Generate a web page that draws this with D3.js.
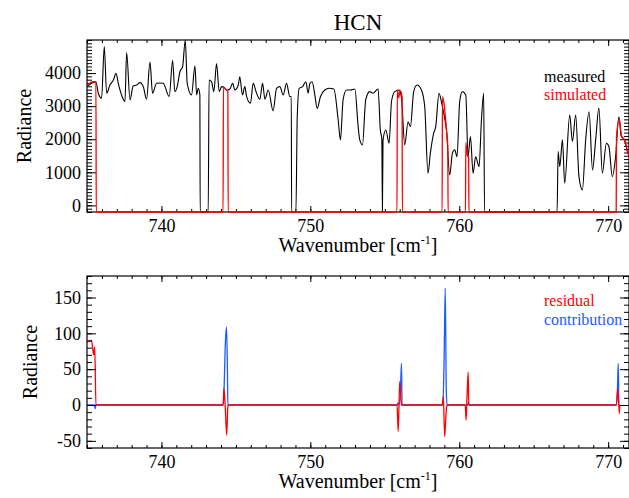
<!DOCTYPE html>
<html>
<head>
<meta charset="utf-8">
<script src="https://cdn.jsdelivr.net/npm/d3@7"></script>
<style>
  body { margin: 0; background: #fff; }
  text { font-family: "Liberation Serif", "Times New Roman", Times, "DejaVu Serif", serif; }
</style>
</head>
<body>
<div id="chart"></div>
<script>
// measured spectrum (wavenumber, radiance); -200 marks masked points
const measuredWn = [735.0,735.3,735.6,735.76,735.98,736.16,736.32,736.54,736.77,736.95,737.1,737.32,737.55,737.66,737.89,738.1,738.34,738.56,738.78,739.0,739.23,739.4,739.67,739.9,740.12,740.52,740.75,740.9,741.06,741.24,741.42,741.6,741.73,742.02,742.25,742.36,742.47,742.58,742.6,743.14,743.2,743.36,743.52,743.7,743.88,744.04,744.2,744.38,744.6,744.78,744.93,745.16,745.26,745.44,745.6,745.72,745.98,746.16,746.39,746.61,746.79,746.95,747.17,747.5,747.73,747.95,748.18,748.4,748.62,748.72,748.74,749.03,749.12,749.25,749.48,749.7,749.85,749.97,750.12,750.3,750.46,750.68,750.97,751.26,751.58,751.87,752.02,752.2,752.43,752.7,752.99,753.21,753.32,753.5,753.72,753.99,754.2,754.55,754.7,754.8,754.84,754.88,755.07,755.29,755.45,755.67,755.96,756.12,756.34,756.56,756.72,756.94,757.16,757.46,757.68,757.9,758.06,758.28,758.42,758.64,758.8,758.96,759.14,759.36,759.54,759.7,759.85,760.03,760.21,760.44,760.59,760.75,760.93,761.1,761.33,761.49,761.64,761.7,766.57,766.64,766.75,766.93,767.08,767.42,767.6,767.82,768.04,768.27,768.49,768.72,768.95,769.16,769.38,769.61,769.88,770.05,770.28,770.5,770.72,770.88,771.1,771.33,771.5];
const measuredRad = [3590,3690,3740,3390,3240,4800,3390,3640,3790,3990,3690,3340,3140,4620,3190,3610,3640,3710,3590,3210,4330,3390,3690,3700,3690,3290,4380,3440,3590,4040,4190,5000,3690,3340,4220,3340,3540,3340,-200,-200,3790,3740,3440,4290,3440,3590,3570,3480,3520,3690,3490,3640,3890,3340,3590,3290,3090,3690,3390,3210,3690,3210,3490,2860,3540,3590,3340,3690,3290,3290,-200,-200,2680,3540,3590,3740,3390,3690,3740,3340,2930,3290,3490,3540,3520,2580,1980,3200,3490,3490,3520,2380,1980,1830,3200,3440,3390,3520,2280,2000,-200,1980,2280,1880,3140,3440,3490,3240,1830,2530,2380,3440,3640,3490,2990,970,1580,2180,2380,3390,3140,2780,2280,920,1580,1680,1470,3140,3440,3340,1470,2080,970,1470,1170,2580,3390,-200,-200,1630,1170,1980,670,2730,1930,2730,870,470,1980,2830,1070,1980,2940,970,1880,1780,870,1470,2680,2080,1980,1580,1400];

// simulated spectrum inside the microwindows
const simulatedWn = [735.0,735.2,735.4,735.6,735.62,744.14,744.16,744.3,744.46,744.48,755.82,755.84,755.93,756.02,756.16,756.18,758.85,758.87,759.0,759.15,759.23,759.25,760.42,760.44,760.55,760.63,760.65,770.54,770.56,770.75,770.9,771.1,771.33,771.5];
const simulatedRad = [3640,3700,3740,3740,-200,-200,3570,3520,3450,-200,-200,3500,3250,3480,3300,-200,-200,3290,3000,2250,1800,-200,-200,1900,1500,1450,-200,-200,2080,2600,2100,1980,1580,1400];

// residual (measured - simulated)
const residualWn = [735.0,735.3,735.45,735.52,735.6,744.14,744.2,744.3,744.38,744.45,744.48,755.82,755.9,756.0,756.08,756.12,758.85,758.93,759.02,759.12,759.18,760.4,760.46,760.52,760.6,760.64,770.55,770.65,770.75,770.78];
const residualVal = [88,90,70,81,0,0,23,-10,-42,-5,0,0,-37,33,10,0,0,12,-44,-10,0,0,-21,10,46,0,0,23,-12,0];

// HCN contribution
const contribWn = [735.0,735.5,735.55,735.6,744.15,744.2,744.3,744.37,744.43,744.46,755.82,755.88,755.95,756.04,756.12,756.16,758.9,758.98,759.06,759.13,759.18,760.56,760.62,760.66,770.55,770.62,770.68,770.72,770.78];
const contribVal = [0,0,-5,0,0,20,90,109,50,0,0,3,0,15,58,0,0,60,163,20,0,0,4,0,0,20,58,0,0];

const xTicks = [740, 750, 760, 770];
const topYTicks = [0, 1000, 2000, 3000, 4000];
const botYTicks = [-50, 0, 50, 100, 150];

const W = 629, H = 498;
const left = 87, right = 629;
const font = "'Liberation Serif', 'Times New Roman', Times, 'DejaVu Serif', serif";

const svg = d3.select("#chart").append("svg")
  .attr("width", W).attr("height", H);

const x = d3.scaleLinear().domain([735, 771.4]).range([left, right]);
const minorX = d3.range(735, 772, 1);

function drawLine(g, s, y, yMin) {
  const pts = s.wn.map((w, i) => [w, s.val[i]]);
  g.append("path")
    .datum(pts)
    .attr("fill", "none")
    .attr("stroke", s.color)
    .attr("stroke-width", s.width)
    .attr("stroke-linejoin", "round")
    .attr("d", d3.line().curve(d3.curveMonotoneX)
      .x(d => x(d[0])).y(d => y(Math.max(d[1], yMin))));
}

function panel(top, bottom, yDomain, yTicks, yMinorStep, series, legend, clipId) {
  const y = d3.scaleLinear().domain(yDomain).range([bottom, top]);
  const minorY = d3.range(Math.ceil(yDomain[0] / yMinorStep) * yMinorStep, yDomain[1] + 1e-9, yMinorStep);

  svg.append("defs").append("clipPath").attr("id", clipId)
    .append("rect").attr("x", left).attr("y", top - 1)
    .attr("width", right - left).attr("height", bottom - top + 2);

  const plot = svg.append("g").attr("clip-path", `url(#${clipId})`);
  series.filter(s => !s.onTop).forEach(s => drawLine(plot, s, y, yDomain[0]));

  // axes with inward ticks
  const axes = [
    [d3.axisBottom(x).tickValues(xTicks).tickSize(-6).tickPadding(7).tickFormat(d3.format("d")), `translate(0,${bottom})`, true],
    [d3.axisBottom(x).tickValues(minorX).tickSize(-3).tickFormat(""), `translate(0,${bottom})`, false],
    [d3.axisTop(x).tickValues(xTicks).tickSize(-6).tickFormat(""), `translate(0,${top})`, false],
    [d3.axisTop(x).tickValues(minorX).tickSize(-3).tickFormat(""), `translate(0,${top})`, false],
    [d3.axisLeft(y).tickValues(yTicks).tickSize(-9).tickPadding(6).tickFormat(d3.format("d")), `translate(${left},0)`, true],
    [d3.axisLeft(y).tickValues(minorY).tickSize(-5).tickFormat(""), `translate(${left},0)`, false],
    [d3.axisRight(y).tickValues(yTicks).tickSize(-9).tickFormat(""), `translate(${right},0)`, false],
    [d3.axisRight(y).tickValues(minorY).tickSize(-5).tickFormat(""), `translate(${right},0)`, false]
  ];
  axes.forEach(([ax, tr, labels]) => {
    const g = svg.append("g").attr("transform", tr).call(ax);
    g.select(".domain").remove();
    g.selectAll("line").attr("stroke", "#000").attr("stroke-width", 1);
    if (labels) {
      g.selectAll("text").attr("font-family", font).attr("font-size", 18).attr("fill", "#000")
        .text(d => d < 0 ? "-" + Math.abs(d) : d);
    }
  });

  svg.append("rect")
    .attr("x", left).attr("y", top)
    .attr("width", right - left).attr("height", bottom - top)
    .attr("fill", "none").attr("stroke", "#000").attr("stroke-width", 1.2);

  // lines that run along the frame are drawn over it
  const over = svg.append("g").attr("clip-path", `url(#${clipId})`);
  series.filter(s => s.onTop).forEach(s => drawLine(over, s, y, yDomain[0]));

  // axis title
  const xt = svg.append("text")
    .attr("x", (left + right) / 2).attr("y", bottom + 40)
    .attr("text-anchor", "middle").attr("font-family", font).attr("font-size", 20);
  xt.append("tspan").text("Wavenumber [cm");
  xt.append("tspan").attr("font-size", 12).attr("dy", -8).text("-1");
  xt.append("tspan").attr("dy", 8).text("]");

  legend.forEach(l => {
    svg.append("text")
      .attr("x", l.x).attr("y", l.y)
      .attr("font-family", font).attr("font-size", 16)
      .attr("fill", l.color).text(l.text);
  });
  return y;
}

panel(40, 212, [-200, 5000], topYTicks, 100, [
  { wn: measuredWn, val: measuredRad, color: "#000", width: 1.1 },
  { wn: simulatedWn, val: simulatedRad, color: "#ff0000", width: 1.3, onTop: true }
], [
  { text: "measured", color: "#000", x: 544, y: 82 },
  { text: "simulated", color: "#ff0000", x: 544, y: 100 }
], "clip-top");

panel(276, 448, [-60, 180], botYTicks, 10, [
  { wn: contribWn, val: contribVal, color: "#1a5cff", width: 1.3 },
  { wn: residualWn, val: residualVal, color: "#ff0000", width: 1.3 }
], [
  { text: "residual", color: "#ff0000", x: 544, y: 306 },
  { text: "contribution", color: "#1a5cff", x: 544, y: 325 }
], "clip-bot");

svg.append("text").attr("x", 358).attr("y", 30)
  .attr("text-anchor", "middle").attr("font-family", font).attr("font-size", 23)
  .text("HCN");

[[24, 126], [30, 362]].forEach(([cx, cy]) => {
  svg.append("text")
    .attr("transform", `translate(${cx},${cy}) rotate(-90)`)
    .attr("text-anchor", "middle").attr("dy", "0.35em")
    .attr("font-family", font).attr("font-size", 20)
    .text("Radiance");
});
</script>
</body>
</html>
